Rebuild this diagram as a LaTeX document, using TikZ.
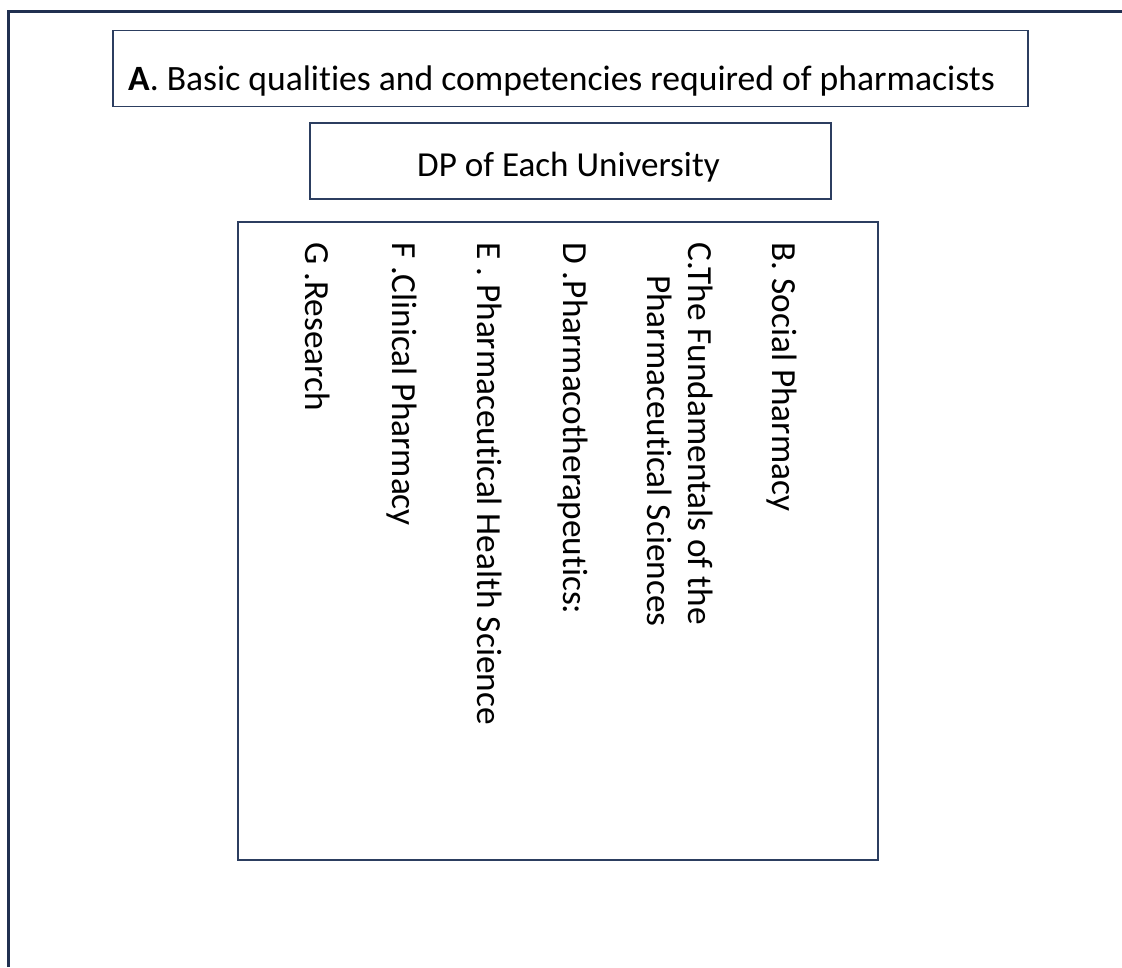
\documentclass[tikz,border=0pt]{standalone}
\usepackage{fontspec}
\setmainfont[Ligatures=NoCommon]{Carlito}
\definecolor{frameblue}{RGB}{32,48,80}
\definecolor{boxblue}{RGB}{44,62,96}
\begin{document}
\begin{tikzpicture}[x=1pt,y=-1pt,
  framestroke/.style={draw=frameblue,line width=3pt},
  panel/.style={draw=boxblue,line width=1.6pt,inner sep=0pt,fill=none},
  headtext/.style={inner sep=0pt,anchor=base west,font=\fontsize{35.6}{42}\selectfont},
  dptext/.style={inner sep=0pt,anchor=base west,font=\fontsize{35.1}{42}\selectfont},
  vtext/.style={inner sep=0pt,anchor=base west,rotate=-90,font=\fontsize{35.3}{42}\selectfont}]
  \useasboundingbox (0,0) rectangle (1122,967);
  \fill[white] (0,0) rectangle (1122,967);
  % outer frame, open at the right and bottom
  \coordinate (fbl) at (8,967);
  \coordinate (ftl) at (8,11);
  \coordinate (ftr) at (1122,11);
  \draw[framestroke] (fbl) -- (ftl) -- (ftr);
  % boxes
  \node[panel,minimum width=915pt,minimum height=76pt] (headbox) at (570.5,68.5) {};
  \node[panel,minimum width=521pt,minimum height=76pt] (dpbox) at (570.5,161) {};
  \node[panel,minimum width=640pt,minimum height=638pt] (mainbox) at (558,541) {};
  % texts
  \node[headtext] (head) at (128,90) {\textbf{A}. Basic qualities and competencies required of pharmacists};
  \node[dptext] (dp) at (417,176) {DP of Each University};
  \node[vtext] (b) at (772,242) {B. Social Pharmacy};
  \node[vtext] (c1) at (688,242) {C.The Fundamentals of the};
  \node[vtext] (c2) at (647,275) {Pharmaceutical Sciences};
  \node[vtext] (d) at (563,242) {D .Pharmacotherapeutics:};
  \node[vtext] (e) at (477,242) {E . Pharmaceutical Health Science};
  \node[vtext] (f) at (392,242) {F .Clinical Pharmacy};
  \node[vtext] (g) at (305,242) {G .Research};
\end{tikzpicture}
\end{document}
